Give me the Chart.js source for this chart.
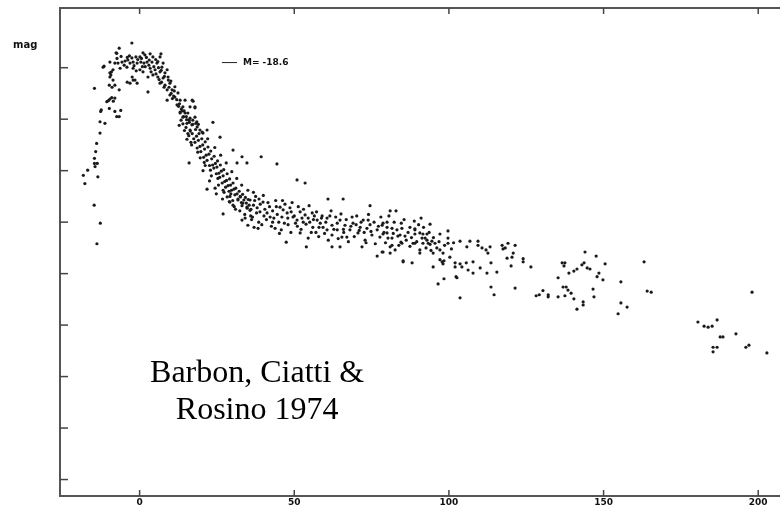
<!DOCTYPE html>
<html>
<head>
<meta charset="utf-8">
<script src="https://cdn.jsdelivr.net/npm/chart.js@4.4.0/dist/chart.umd.min.js"></script>
<style>
  html, body { margin: 0; padding: 0; background: #fff; }
  canvas { display: block; }
</style>
</head>
<body>
<canvas id="curva" width="780" height="519"></canvas>
<script>
// dias desde o maximo / magnitude absoluta
const risePhase = [
  [-18.2,-16.41],[-17.7,-16.25],[-16.8,-16.51],[-14.7,-15.83],[-13.8,-15.08],[-12.7,-15.48],
  [-14.6,-16.74],[-14.2,-16.87],[-13.9,-17.03],[-14.6,-16.64],[-14.4,-16.58],[-13.5,-16.38],[-13.7,-16.64],
  [-12.8,-17.23],[-12.8,-17.45],[-12.6,-17.65],[-12.4,-17.68],[-11.2,-17.42],[-14.6,-18.10],[-11.5,-18.53],
  [-10.6,-17.84],[-10.1,-17.86],[-9.6,-17.89],[-9.0,-17.92],[-8.5,-17.85],[-8.0,-17.91],[-9.8,-17.71],
  [-8.0,-17.65],[-7.4,-17.55],[-6.6,-17.55],[-6.1,-17.67],[-9.8,-18.16],[-9.3,-18.36],[-9.1,-18.42],
  [-8.0,-18.16],[-6.6,-18.07],[-7.4,-18.78],[-6.6,-18.88],[-9.6,-18.32],[-8.6,-18.26],[-8.9,-18.12]
];

const peakPhase = [
  [-2.5,-18.98],[-7.6,-18.79],[1.1,-18.79],[1.7,-18.75],[3.4,-18.77],[4.3,-18.71],[6.9,-18.77],[6.6,-18.71],
  [0.1,-18.71],[-1.2,-18.71],[-2.5,-18.69],[-3.8,-18.65],[-4.7,-18.63],[-5.7,-18.61],[-7.0,-18.59],[-8.0,-18.59],
  [-9.6,-18.61],[-11.8,-18.51],[-3.1,-18.59],[-2.1,-18.61],[-0.8,-18.59],[0.4,-18.61],[1.4,-18.59],[2.4,-18.61],
  [3.1,-18.65],[4.0,-18.61],[5.6,-18.59],[5.9,-18.62],[7.2,-18.51],[7.6,-18.59],[-4.1,-18.51],[-6.3,-18.49],
  [-8.6,-18.46],[-9.6,-18.40],[-2.1,-18.49],[0.1,-18.46],[1.1,-18.42],[3.4,-18.49],[5.0,-18.46],[6.6,-18.42],
  [8.2,-18.40],[8.9,-18.46],[2.7,-18.32],[4.3,-18.36],[5.9,-18.32],[7.6,-18.30],[9.2,-18.32],[-2.1,-18.26],
  [-3.1,-18.20],[-0.8,-18.20],[2.7,-18.03],[6.6,-18.20],[8.2,-18.16],[9.8,-18.20],[8.9,-18.07],[10.5,-18.07],
  [11.4,-18.13],[9.8,-17.97],[11.4,-17.93],[12.4,-18.01],[13.1,-17.87],[14.7,-17.87],[17.3,-17.85],[8.9,-17.87],
  [12.1,-17.78],[14.0,-17.74],[16.3,-17.74],[17.9,-17.72],[13.1,-17.64],[14.7,-17.62],[15.6,-17.62],[14.0,-17.54],
  [16.3,-17.52],[17.9,-17.54],[15.3,-17.42],[16.9,-17.39],[18.6,-17.35],[19.5,-17.29],[16.3,-17.29],[20.5,-17.23],
  [21.8,-17.29],[-5.0,-18.55],[-4.0,-18.70],[-3.3,-18.73],[-1.8,-18.54],[-0.6,-18.66],[0.6,-18.68],[1.8,-18.52],
  [2.2,-18.70],[3.0,-18.55],[4.6,-18.52],[5.2,-18.66],[6.1,-18.50],[7.0,-18.45],[8.0,-18.33],[9.3,-18.26],
  [10.1,-18.24],[-6.0,-18.72],[-7.3,-18.68],[-1.1,-18.44],[0.9,-18.52],[3.7,-18.42],[5.3,-18.38],[6.3,-18.27],
  [7.1,-18.22],[7.9,-18.12],[10.2,-18.00],[11.0,-17.95],[12.0,-17.88],[9.5,-18.12],[11.2,-18.05],[10.6,-17.90],
  [12.6,-17.75],[13.5,-17.70],[14.4,-17.66],[15.1,-17.55],[16.0,-17.48],[17.2,-17.48],[18.2,-17.42],[19.0,-17.40],
  [12.9,-17.80],[-2.4,-18.32],[-1.5,-18.26],[-4.0,-18.22]
];

const steepDecline = [
  [13.1,-17.62],[13.4,-17.48],[12.8,-17.38],[14.2,-17.55],[14.0,-17.41],[14.5,-17.28],[13.8,-17.66],
  [15.2,-17.49],[15.0,-17.34],[15.6,-17.22],[15.3,-17.11],[16.1,-17.44],[16.4,-17.27],[15.9,-17.18],[16.6,-17.05],
  [17.2,-17.40],[17.0,-17.22],[17.5,-17.12],[16.8,-17.00],[18.1,-17.30],[18.4,-17.17],[17.9,-17.05],[18.6,-16.94],
  [19.2,-17.22],[19.0,-17.09],[19.5,-16.97],[18.8,-16.86],[20.1,-17.12],[20.4,-17.00],[19.8,-16.87],[20.7,-16.76],
  [21.2,-17.06],[21.0,-16.92],[21.5,-16.80],[20.9,-16.66],[22.1,-16.96],[22.4,-16.82],[21.8,-16.70],[22.6,-16.60],
  [23.0,-16.88],[23.3,-16.73],[23.6,-16.61],[22.9,-16.51],[24.1,-16.78],[24.5,-16.64],[24.0,-16.55],[24.8,-16.44],
  [25.2,-16.69],[25.0,-16.57],[25.6,-16.45],[25.3,-16.35],[26.1,-16.61],[26.4,-16.49],[25.9,-16.37],[26.7,-16.26],
  [27.2,-16.52],[27.0,-16.40],[27.5,-16.29],[27.8,-16.18],[28.3,-16.44],[28.1,-16.31],[28.6,-16.21],[28.9,-16.10],
  [29.1,-16.34],[29.4,-16.22],[29.7,-16.12],[29.2,-16.00],[30.2,-16.26],[30.5,-16.14],[30.8,-16.03],[30.1,-15.92],
  [31.1,-16.16],[31.5,-16.05],[31.8,-15.95],[32.2,-16.10],[32.6,-15.99],[32.9,-15.88],[33.3,-16.04],[33.7,-15.93],
  [33.1,-15.82],[34.2,-15.98],[34.5,-15.87],[34.8,-15.77],[35.1,-15.94],[35.4,-15.83],[35.7,-15.73],
  [17.0,-17.87],[17.9,-17.74],[23.7,-17.44],[26.0,-17.15],[30.2,-16.90],[33.1,-16.77],[39.3,-16.77],[34.7,-16.65],
  [31.5,-16.65],[16.0,-16.65],[21.8,-16.14],[24.4,-16.16],[27.0,-15.66],[44.4,-16.63],
  [18.5,-17.45],[19.6,-16.75],[20.2,-17.25],[21.2,-16.60],[22.0,-17.12],[23.2,-16.40],[24.3,-16.95],[25.5,-16.22],
  [26.2,-16.80],[27.3,-16.08],[28.0,-16.65],[29.0,-15.90],[29.8,-16.48],[30.6,-15.80],[31.4,-16.35],[32.4,-15.72],
  [33.0,-16.22],[34.1,-15.58],[35.0,-16.12],[35.9,-15.62],[36.8,-16.08],[24.8,-16.05],[22.6,-16.30],[20.5,-16.50],
  [26.8,-15.95]
];

const slowDecline = [
  [27.0,-16.12],[28.3,-15.99],[29.2,-15.89],[30.2,-15.83],[31.8,-15.93],[33.4,-15.87],[34.7,-15.79],[35.7,-15.93],
  [36.8,-15.83],[38.0,-15.78],[38.9,-15.70],[39.9,-15.89],[41.2,-15.68],[42.2,-15.60],[33.1,-15.54],[35.0,-15.44],
  [38.3,-15.38],[43.8,-15.38],[45.4,-15.79],[46.4,-15.74],[47.7,-15.68],[48.6,-15.78],[49.6,-15.60],[50.9,-15.54],
  [51.9,-15.70],[53.5,-15.64],[54.5,-15.58],[55.8,-15.68],[57.4,-15.54],[58.4,-15.48],[51.9,-15.29],[54.5,-15.19],
  [59.3,-15.40],[60.6,-15.35],[62.2,-15.44],[63.9,-15.35],[64.8,-15.54],[66.4,-15.44],[65.4,-15.21],[68.0,-15.35],
  [69.0,-15.48],[70.6,-15.29],[72.3,-15.54],[73.5,-15.38],[75.1,-15.25],[76.8,-15.35],[78.4,-15.44],[80.0,-15.29],
  [81.6,-15.19],[83.2,-15.35],[84.2,-15.25],[87.4,-15.40],[89.0,-15.35],[90.6,-15.29],[92.3,-15.19],[88.4,-15.09],
  [93.3,-15.09],[29.5,-16.05],[31.0,-15.75],[32.5,-16.00],[34.0,-15.65],[36.0,-15.75],[37.2,-15.92],[39.0,-15.85],
  [40.5,-15.75],[42.0,-15.80],[43.0,-15.72],[44.5,-15.65],[46.0,-15.60],[47.0,-15.85],[49.0,-15.70],[50.0,-15.62],
  [52.5,-15.58],[53.0,-15.75],[55.0,-15.50],[56.5,-15.62],[58.0,-15.40],[36.5,-15.60],[41.0,-15.55],[45.0,-15.50],
  [48.0,-15.45],[60.6,-15.58],[62.2,-15.25],[63.9,-15.48],[67.0,-15.21],[68.7,-15.60],[71.3,-15.40],[72.9,-15.15],
  [73.9,-15.54],[77.7,-15.21],[71.9,-15.02],[37.5,-16.00],[40.0,-16.02],[44.0,-15.92],[38.5,-15.50],[45.8,-15.35],
  [56.0,-15.40],[61.5,-15.62],[66.0,-15.30],[70.0,-15.45],[74.5,-15.45],[79.0,-15.30],[57.0,-15.30],[59.0,-15.62],
  [51.0,-15.42],[43.0,-15.50],
  [47.4,-15.11],[53.9,-15.02],[62.2,-15.02],[64.8,-15.02],[76.8,-14.84],[78.4,-14.92],[85.2,-14.73],[88.1,-14.71],
  [90.6,-14.90],[50.9,-16.32],[53.5,-16.26],[60.9,-15.95],[65.8,-15.95],[74.5,-15.82],[81.0,-15.72],[82.9,-15.72],
  [91.0,-15.58],
  [36.2,-15.55],[37.0,-15.40],[37.8,-15.68],[38.6,-15.95],[39.5,-15.45],[40.2,-15.62],[41.5,-15.88],[42.6,-15.42],
  [43.4,-15.58],[44.2,-15.80],[45.2,-15.28],[46.2,-15.92],[46.8,-15.48],[47.9,-15.58],[48.9,-15.30],[49.3,-15.88],
  [50.4,-15.48],[51.3,-15.80],[52.2,-15.36],[52.9,-15.50],[53.8,-15.46],[54.8,-15.82],[55.5,-15.30],[56.2,-15.55],
  [57.2,-15.70],[57.9,-15.22],[58.8,-15.58],[59.8,-15.28],[60.2,-15.50],[61.0,-15.15],[61.9,-15.72],[62.8,-15.36],
  [63.4,-15.60],[64.2,-15.18],[65.1,-15.66],[65.9,-15.36],[66.8,-15.55],[67.5,-15.12],[68.3,-15.42],[69.4,-15.22],
  [70.2,-15.62],[71.0,-15.34],[71.6,-15.50],[72.6,-15.30],[73.2,-15.10],[74.0,-15.65],[74.8,-15.32],[75.8,-15.50],
  [76.2,-15.08],[77.2,-15.42],[78.0,-15.60],[79.5,-15.10],[80.6,-15.62],[82.0,-15.28],[82.3,-15.50],[83.8,-15.05],
  [84.6,-15.48],[85.5,-15.55],[86.2,-15.15],[86.8,-15.30],[87.9,-15.20],[88.8,-15.52],[89.6,-15.12],[90.2,-15.45],
  [91.8,-15.40],[92.6,-15.00],[93.6,-15.30],[94.2,-14.95],[95.0,-15.20],[96.8,-15.12],[98.6,-15.05],[100.8,-14.98],
  [101.5,-15.10]
];

const latePhase = [
  [93.9,-15.46],[80.0,-15.50],[78.7,-15.48],[80.0,-15.40],[81.6,-15.38],[84.8,-15.38],[89.0,-15.37],[78.7,-15.27],
  [83.5,-15.23],[85.8,-15.23],[89.0,-15.27],[91.6,-15.27],[92.9,-15.27],[97.1,-15.27],[99.7,-15.33],[99.7,-15.19],
  [80.3,-15.19],[84.5,-15.11],[84.8,-15.09],[87.4,-15.03],[89.0,-15.09],[91.3,-15.19],[92.9,-15.15],[94.5,-15.13],
  [91.6,-15.09],[93.9,-15.07],[95.5,-15.09],[99.7,-15.09],[103.6,-15.13],[106.8,-15.13],[109.4,-15.13],[81.6,-15.05],
  [81.0,-15.02],[82.6,-14.96],[78.7,-14.92],[81.0,-14.90],[90.6,-14.96],[96.1,-15.00],[97.1,-14.96],[98.1,-14.90],
  [94.9,-14.90],[100.3,-14.82],[105.8,-15.02],[109.4,-15.05],[110.7,-15.00],[112.0,-14.96],[113.3,-15.02],[112.6,-14.90],
  [117.2,-15.05],[119.1,-15.09],[121.4,-15.05],[118.2,-15.00],[120.8,-14.90],[120.4,-14.82],[118.8,-14.80],[124.0,-14.79],
  [124.0,-14.73],[120.1,-14.65],[126.5,-14.63],[85.2,-14.75],[94.9,-14.63],[97.1,-14.77],[97.8,-14.73],[98.4,-14.75],
  [98.1,-14.69],[102.0,-14.71],[103.6,-14.69],[105.6,-14.71],[107.8,-14.73],[102.0,-14.63],[104.2,-14.63],[106.2,-14.57],
  [107.8,-14.51],[110.1,-14.61],[112.3,-14.51],[113.6,-14.71],[115.5,-14.53],[102.3,-14.44],[102.6,-14.42],[98.4,-14.40],
  [96.5,-14.30],[103.6,-14.03],[113.6,-14.24],[114.6,-14.09],[121.4,-14.22],[128.2,-14.07],[129.2,-14.09],[130.4,-14.17],
  [132.1,-14.09],[132.1,-14.05],[135.3,-14.05],[117.5,-14.98]
];

const tailPhase = [
  [136.9,-14.24],[137.9,-14.24],[138.5,-14.18],[139.5,-14.12],[137.5,-14.07],[146.6,-14.20],[146.9,-14.05],[140.4,-14.01],
  [143.4,-13.95],[143.4,-13.89],[141.4,-13.81],[155.6,-14.34],[155.6,-13.93],[157.6,-13.85],[154.7,-13.72],[163.1,-14.73],
  [164.1,-14.16],[165.4,-14.14],[198.0,-14.14],[180.5,-13.56],[182.5,-13.48],[183.8,-13.46],[185.1,-13.48],[186.7,-13.60],
  [187.7,-13.27],[188.6,-13.27],[192.8,-13.33],[185.4,-13.07],[186.7,-13.07],[185.4,-12.98],[196.0,-13.07],[197.0,-13.11],
  [202.8,-12.96],[135.3,-14.42],[136.6,-14.71],[137.5,-14.71],[137.2,-14.65],[138.8,-14.51],[140.4,-14.55],[141.4,-14.59],
  [143.0,-14.67],[143.7,-14.71],[144.0,-14.92],[144.7,-14.61],[145.6,-14.59],[147.6,-14.84],[150.5,-14.69],[148.5,-14.51],
  [147.9,-14.44],[149.8,-14.38]
];

const xTicks = [0, 50, 100, 150, 200];
const yTicks = [-18.5, -17.5, -16.5, -15.5, -14.5, -13.5, -12.5, -11.5, -10.5];
const xMin = -25.74, xMax = 207.04;
const yMin = -19.66, yMax = -10.18;
const mediaRef = -18.6;

const pontos = risePhase.concat(peakPhase, steepDecline, slowDecline, latePhase, tailPhase)
  .map(p => ({ x: p[0], y: p[1] }));

const negrito = '"DejaVu Sans", sans-serif';

// tracinhos para dentro + textos
const marcas = {
  id: 'marcas',
  afterDraw(chart) {
    const ctx = chart.ctx;
    const xs = chart.scales.x, ys = chart.scales.y;
    const area = chart.chartArea;
    ctx.save();
    ctx.strokeStyle = '#444';
    ctx.lineWidth = 1.5;
    xTicks.forEach(v => {
      const px = xs.getPixelForValue(v);
      ctx.beginPath(); ctx.moveTo(px, area.bottom); ctx.lineTo(px, area.bottom - 6); ctx.stroke();
      ctx.beginPath(); ctx.moveTo(px, area.top); ctx.lineTo(px, area.top + 6); ctx.stroke();
    });
    yTicks.forEach(v => {
      const py = ys.getPixelForValue(v);
      ctx.beginPath(); ctx.moveTo(area.left, py); ctx.lineTo(area.left + 8, py); ctx.stroke();
    });

    ctx.fillStyle = '#111';
    ctx.font = 'bold 10px ' + negrito;
    ctx.textAlign = 'left';
    ctx.textBaseline = 'alphabetic';
    ctx.fillText('mag', area.left - 47, 48);

    // legenda M=-18.6
    const ly = ys.getPixelForValue(mediaRef);
    ctx.lineWidth = 1;
    ctx.strokeStyle = '#222';
    ctx.beginPath();
    ctx.moveTo(xs.getPixelForValue(26.6), ly);
    ctx.lineTo(xs.getPixelForValue(31.5), ly);
    ctx.stroke();
    ctx.font = 'bold 9px ' + negrito;
    ctx.textBaseline = 'middle';
    ctx.fillText('M= -18.6', xs.getPixelForValue(33.4), ly + 0.5);

    ctx.font = '32px "Liberation Serif", "Times New Roman", serif';
    ctx.fillStyle = '#000';
    ctx.textAlign = 'center';
    ctx.textBaseline = 'alphabetic';
    const cx = xs.getPixelForValue(38.0);
    ctx.fillText('Barbon, Ciatti &', cx, ys.getPixelForValue(-12.40));
    ctx.fillText('Rosino 1974', cx, ys.getPixelForValue(-11.68));
    ctx.restore();
  }
};

new Chart(document.getElementById('curva'), {
  type: 'scatter',
  data: {
    datasets: [{
      data: pontos,
      pointRadius: 1.6,
      pointBorderWidth: 0,
      pointBackgroundColor: '#1a1a1a',
      pointHoverRadius: 1.6
    }]
  },
  options: {
    responsive: false,
    animation: false,
    devicePixelRatio: 1,
    layout: { padding: 0, autoPadding: false },
    plugins: { legend: { display: false }, tooltip: { enabled: false } },
    events: [],
    scales: {
      x: {
        type: 'linear', position: 'bottom', min: xMin, max: xMax,
        afterBuildTicks: s => { s.ticks = xTicks.map(v => ({ value: v })); },
        afterFit: s => { s.height = 23; },
        grid: { display: true, drawOnChartArea: false, drawTicks: false },
        border: { display: true, color: '#555', width: 2 },
        ticks: {
          padding: 1, color: '#111', maxRotation: 0,
          font: { family: negrito, size: 9, weight: 'bold' },
          callback: v => String(v)
        }
      },
      x2: {
        type: 'linear', position: 'top', min: xMin, max: xMax,
        afterBuildTicks: s => { s.ticks = xTicks.map(v => ({ value: v })); },
        afterFit: s => { s.height = 8; },
        grid: { display: true, drawOnChartArea: false, drawTicks: false },
        border: { display: true, color: '#555', width: 2 },
        ticks: { display: false }
      },
      y: {
        type: 'linear', reverse: true, min: yMin, max: yMax,
        afterBuildTicks: s => { s.ticks = yTicks.map(v => ({ value: v })); },
        afterFit: s => { s.width = 60; },
        grid: { display: true, drawOnChartArea: false, drawTicks: false },
        border: { display: true, color: '#555', width: 2 },
        ticks: { display: false }
      }
    }
  },
  plugins: [marcas]
});
</script>
</body>
</html>
